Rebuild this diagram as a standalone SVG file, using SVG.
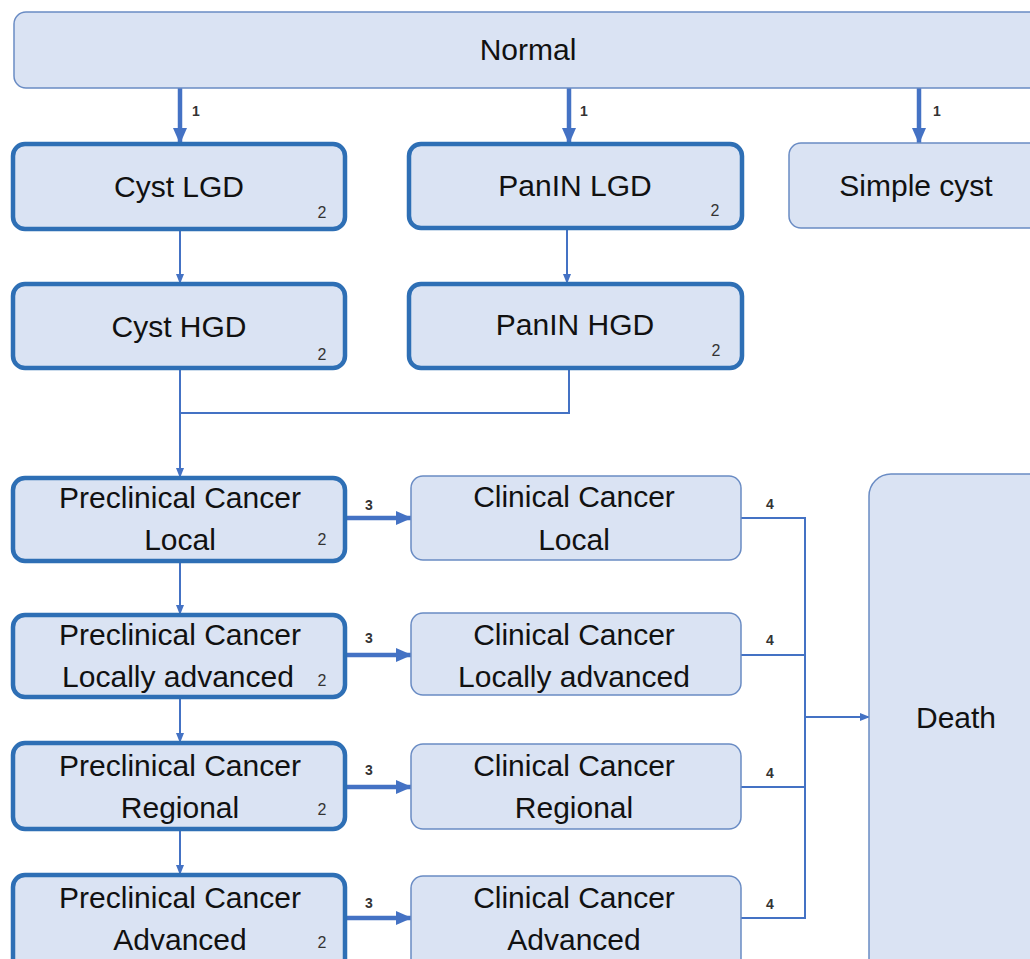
<svg xmlns="http://www.w3.org/2000/svg" width="1030" height="959" viewBox="0 0 1030 959">
<style>
.box{fill:#dae3f3;stroke:#6a8cc4;stroke-width:1.5}
.tbox{fill:#dae3f3;stroke:#2e6fb5;stroke-width:4.5}
.t{font-family:"Liberation Sans",Arial,sans-serif;font-size:30px;fill:#111;text-anchor:middle}
.s{font-family:"Liberation Sans",Arial,sans-serif;font-size:16px;fill:#333;text-anchor:middle}
.l{font-family:"Liberation Sans",Arial,sans-serif;font-size:14px;font-weight:bold;fill:#333;text-anchor:middle}
.thin{stroke:#4472c4;stroke-width:2;fill:none}
.thick{stroke:#4472c4;stroke-width:4.5;fill:none}
</style>
<defs>
<marker id="ah" markerWidth="10" markerHeight="10" refX="9" refY="5" orient="auto" markerUnits="userSpaceOnUse"><path d="M0,1 L10,5 L0,9 Z" fill="#4472c4"/></marker>
<marker id="ahb" markerWidth="16" markerHeight="16" refX="15" refY="8" orient="auto" markerUnits="userSpaceOnUse"><path d="M0,1 L16,8 L0,15 Z" fill="#4472c4"/></marker>
</defs>
<rect width="1030" height="959" fill="#fff"/>

<g id="connectors">
<path class="thick" d="M180,88 V143" marker-end="url(#ahb)"/>
<path class="thick" d="M569,88 V143" marker-end="url(#ahb)"/>
<path class="thick" d="M919,88 V143" marker-end="url(#ahb)"/>
<path class="thin" d="M180,229 V283" marker-end="url(#ah)"/>
<path class="thin" d="M567,228 V283" marker-end="url(#ah)"/>
<path class="thin" d="M180,368 V477" marker-end="url(#ah)"/>
<path class="thin" d="M569,368 V413 H180"/>
<path class="thin" d="M180,561 V614" marker-end="url(#ah)"/>
<path class="thin" d="M180,697 V742" marker-end="url(#ah)"/>
<path class="thin" d="M180,829 V874" marker-end="url(#ah)"/>
<path class="thick" d="M345,518 H411" marker-end="url(#ahb)"/>
<path class="thick" d="M345,655 H411" marker-end="url(#ahb)"/>
<path class="thick" d="M345,787 H411" marker-end="url(#ahb)"/>
<path class="thick" d="M345,918 H411" marker-end="url(#ahb)"/>
<path class="thin" d="M741,518 H805 V918 H741"/>
<path class="thin" d="M741,655 H805"/>
<path class="thin" d="M741,787 H805"/>
<path class="thin" d="M805,717 H869" marker-end="url(#ah)"/>
<text class="l" x="196" y="116">1</text>
<text class="l" x="584" y="116">1</text>
<text class="l" x="937" y="116">1</text>
<text class="l" x="369" y="510">3</text>
<text class="l" x="369" y="643">3</text>
<text class="l" x="369" y="775">3</text>
<text class="l" x="369" y="908">3</text>
<text class="l" x="770" y="509">4</text>
<text class="l" x="770" y="645">4</text>
<text class="l" x="770" y="778">4</text>
<text class="l" x="770" y="909">4</text>
</g>

<g id="normal"><rect class="box" x="14" y="12" width="1040" height="76" rx="12"/><text class="t" x="528" y="60">Normal</text></g>
<g id="cyst-lgd"><rect class="tbox" x="13" y="144" width="332" height="85" rx="12"/><text class="t" x="179" y="197">Cyst LGD</text><text class="s" x="322" y="218">2</text></g>
<g id="panin-lgd"><rect class="tbox" x="409" y="144" width="333" height="84" rx="12"/><text class="t" x="575" y="196">PanIN LGD</text><text class="s" x="715" y="216">2</text></g>
<g id="simple-cyst"><rect class="box" x="789" y="143" width="260" height="85" rx="12"/><text class="t" x="916" y="196">Simple cyst</text></g>
<g id="cyst-hgd"><rect class="tbox" x="13" y="284" width="332" height="84" rx="12"/><text class="t" x="179" y="337">Cyst HGD</text><text class="s" x="322" y="360">2</text></g>
<g id="panin-hgd"><rect class="tbox" x="409" y="284" width="333" height="84" rx="12"/><text class="t" x="575" y="335">PanIN HGD</text><text class="s" x="716" y="356">2</text></g>

<g id="pre-local"><rect class="tbox" x="13" y="478" width="332" height="83" rx="12"/><text class="t" x="180" y="508">Preclinical Cancer</text><text class="t" x="180" y="550">Local</text><text class="s" x="322" y="545">2</text></g>
<g id="pre-la"><rect class="tbox" x="13" y="615" width="332" height="82" rx="12"/><text class="t" x="180" y="645">Preclinical Cancer</text><text class="t" x="178" y="687">Locally advanced</text><text class="s" x="322" y="686">2</text></g>
<g id="pre-regional"><rect class="tbox" x="13" y="743" width="332" height="86" rx="12"/><text class="t" x="180" y="776">Preclinical Cancer</text><text class="t" x="180" y="818">Regional</text><text class="s" x="322" y="815">2</text></g>
<g id="pre-advanced"><rect class="tbox" x="13" y="875" width="332" height="100" rx="12"/><text class="t" x="180" y="908">Preclinical Cancer</text><text class="t" x="180" y="950">Advanced</text><text class="s" x="322" y="948">2</text></g>

<g id="cl-local"><rect class="box" x="411" y="476" width="330" height="84" rx="12"/><text class="t" x="574" y="507">Clinical Cancer</text><text class="t" x="574" y="550">Local</text></g>
<g id="cl-la"><rect class="box" x="411" y="613" width="330" height="82" rx="12"/><text class="t" x="574" y="645">Clinical Cancer</text><text class="t" x="574" y="687">Locally advanced</text></g>
<g id="cl-regional"><rect class="box" x="411" y="744" width="330" height="85" rx="12"/><text class="t" x="574" y="776">Clinical Cancer</text><text class="t" x="574" y="818">Regional</text></g>
<g id="cl-advanced"><rect class="box" x="411" y="876" width="330" height="100" rx="12"/><text class="t" x="574" y="908">Clinical Cancer</text><text class="t" x="574" y="950">Advanced</text></g>

<g id="death"><rect class="box" x="869" y="474" width="190" height="510" rx="22"/><text class="t" x="956" y="728">Death</text></g>
</svg>
